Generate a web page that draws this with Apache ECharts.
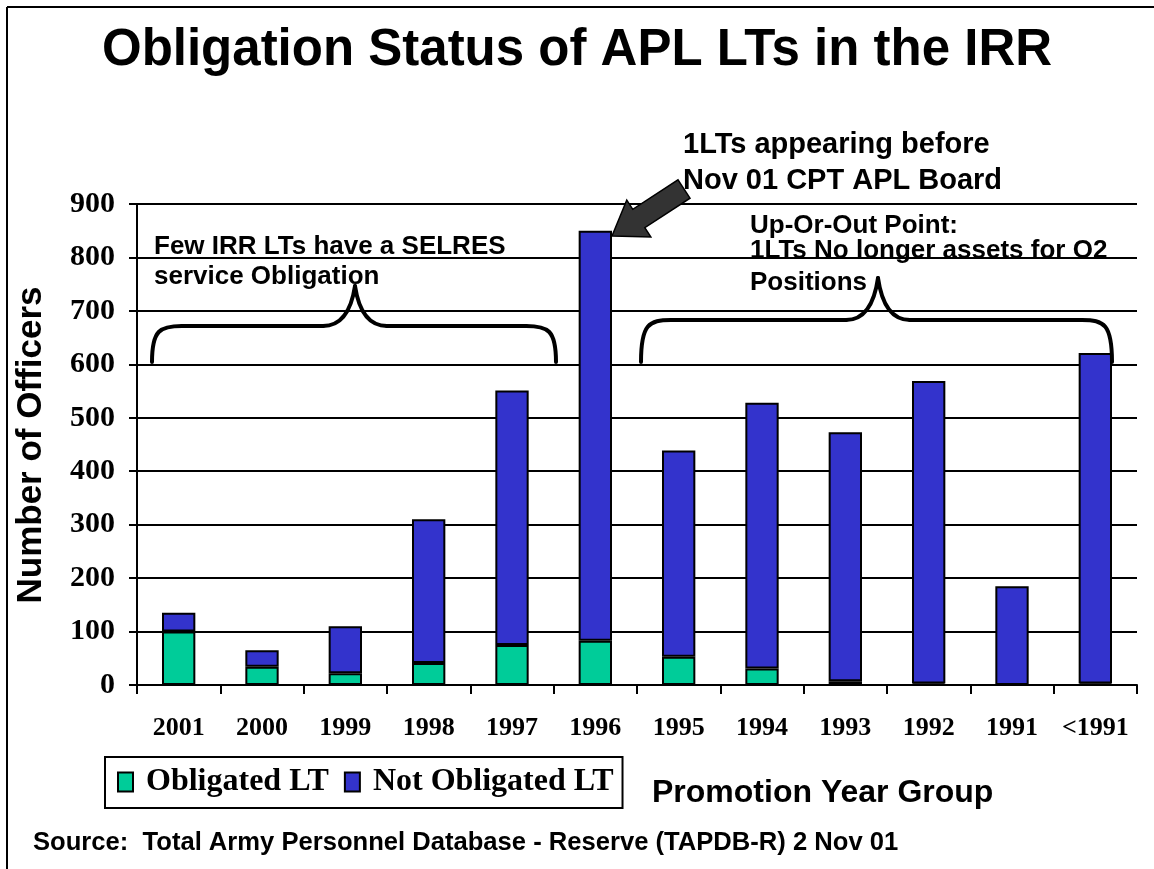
<!DOCTYPE html>
<html>
<head>
<meta charset="utf-8">
<script src="https://cdn.jsdelivr.net/npm/echarts@6/dist/echarts.min.js"></script>
<style>
html,body{margin:0;padding:0;background:#fff;}
#chart{width:1154px;height:869px;}
</style>
</head>
<body>
<div id="chart"></div>
<script>
const categories = ['2001','2000','1999','1998','1997','1996','1995','1994','1993','1992','1991','<1991'];
const obligated    = [100, 34, 22, 41, 75, 83, 53, 31, 7, 3, 0, 3];
const notObligated = [35, 31, 88, 269, 476, 767, 386, 497, 466, 566, 185, 618];
const yTicks = [0,100,200,300,400,500,600,700,800,900];

const SANS = "'Liberation Sans', Arial, sans-serif";
const SERIF = "'Liberation Serif', 'Times New Roman', serif";

// arrow geometry (annotation)
function arrowPoints(tip, tail, headLen, headHalf, shaftHalf){
  const dx = tail[0]-tip[0], dy = tail[1]-tip[1];
  const L = Math.hypot(dx,dy); const ux = dx/L, uy = dy/L; const nx = -uy, ny = ux;
  const b = [tip[0]+ux*headLen, tip[1]+uy*headLen];
  return [tip,
    [b[0]+nx*headHalf, b[1]+ny*headHalf],
    [b[0]+nx*shaftHalf, b[1]+ny*shaftHalf],
    [tail[0]+nx*shaftHalf, tail[1]+ny*shaftHalf],
    [tail[0]-nx*shaftHalf, tail[1]-ny*shaftHalf],
    [b[0]-nx*shaftHalf, b[1]-ny*shaftHalf],
    [b[0]-nx*headHalf, b[1]-ny*headHalf]];
}

// curly brace (annotation) built from lines and bezier curves
function brace(xl, xr, xm, yEnd, yBar, yTip){
  const st = {stroke: '#000', lineWidth: 4, fill: null, lineCap: 'round'};
  const r = 30;
  return [
    {type: 'bezierCurve', z: 60, style: st,
     shape: {x1: xl, y1: yEnd, cpx1: xl, cpy1: yBar + 4, cpx2: xl + 8, cpy2: yBar, x2: xl + r, y2: yBar}},
    {type: 'line', z: 60, style: st, shape: {x1: xl + r, y1: yBar, x2: xm - 32, y2: yBar}},
    {type: 'bezierCurve', z: 60, style: st,
     shape: {x1: xm - 32, y1: yBar, cpx1: xm - 14, cpy1: yBar, cpx2: xm - 4, cpy2: yBar - 14, x2: xm, y2: yTip}},
    {type: 'bezierCurve', z: 60, style: st,
     shape: {x1: xm, y1: yTip, cpx1: xm + 4, cpy1: yBar - 14, cpx2: xm + 14, cpy2: yBar, x2: xm + 32, y2: yBar}},
    {type: 'line', z: 60, style: st, shape: {x1: xm + 32, y1: yBar, x2: xr - r, y2: yBar}},
    {type: 'bezierCurve', z: 60, style: st,
     shape: {x1: xr - r, y1: yBar, cpx1: xr - 8, cpy1: yBar, cpx2: xr, cpy2: yBar + 4, x2: xr, y2: yEnd}}
  ];
}

function txt(x, y, s, size, extra){
  return Object.assign({type: 'text', x: x, y: y, z: 50,
    style: {text: s, font: 'bold ' + size + 'px ' + SANS, fill: '#000', textAlign: 'left', textVerticalAlign: 'middle'}}, extra || {});
}

const chart = echarts.init(document.getElementById('chart'));
chart.setOption({
  animation: false,
  backgroundColor: '#fff',
  title: {
    text: 'Obligation Status of APL LTs in the IRR',
    left: 'center', top: 20,
    textStyle: {fontFamily: SANS, fontWeight: 'bold', fontSize: 51, color: '#000'}
  },
  grid: {left: 137, right: 17, top: 204, bottom: 184},
  legend: {
    left: 105, top: 757,
    padding: [9, 9, 10, 12],
    itemGap: 15, itemWidth: 15, itemHeight: 19,
    borderColor: '#000', borderWidth: 2,
    icon: 'rect',
    textStyle: {fontFamily: SERIF, fontWeight: 'bold', fontSize: 32, color: '#000', padding: [0,0,0,8]},
    data: ['Obligated LT', 'Not Obligated LT']
  },
  xAxis: {
    type: 'category', data: categories,
    axisLine: {lineStyle: {color: '#000', width: 2}},
    axisTick: {show: true, length: 9, lineStyle: {color: '#000', width: 2}},
    axisLabel: {color: '#000', fontFamily: SERIF, fontWeight: 'bold', fontSize: 26, margin: 30, interval: 0}
  },
  yAxis: {
    type: 'value', min: 0, max: 900, interval: 100,
    axisLine: {show: true, lineStyle: {color: '#000', width: 2}},
    axisTick: {show: true, length: 8, lineStyle: {color: '#000', width: 2}},
    splitLine: {show: true, lineStyle: {color: '#000', width: 2}},
    axisLabel: {color: '#000', fontFamily: SERIF, fontWeight: 'bold', fontSize: 30, margin: 22,
      formatter: v => yTicks.includes(v) ? String(v) : ''}
  },
  series: [
    {name: 'Obligated LT', type: 'bar', stack: 'a', data: obligated, barWidth: '40%',
     itemStyle: {color: '#00CC99', borderColor: '#000', borderWidth: 2}},
    {name: 'Not Obligated LT', type: 'bar', stack: 'a', data: notObligated, barWidth: '40%',
     itemStyle: {color: '#3333CC', borderColor: '#000', borderWidth: 2}}
  ],
  graphic: [
    {type: 'line', shape: {x1: 7, y1: 7, x2: 1154, y2: 7}, style: {stroke: '#000', lineWidth: 2}, z: 100},
    {type: 'line', shape: {x1: 7, y1: 7, x2: 7, y2: 869}, style: {stroke: '#000', lineWidth: 2}, z: 100},
    {type: 'text', x: 31, y: 445, rotation: Math.PI/2, z: 50,
     style: {text: 'Number of Officers', font: 'bold 35px ' + SANS, fill: '#000', textAlign: 'center', textVerticalAlign: 'middle'}},
    txt(652, 793, 'Promotion Year Group', 32),
    txt(33, 843, 'Source:  Total Army Personnel Database - Reserve (TAPDB-R) 2 Nov 01', 25.6),
    txt(154, 247, 'Few IRR LTs have a SELRES', 26),
    txt(154, 277, 'service Obligation', 26),
    txt(683, 145, '1LTs appearing before', 29),
    txt(683, 181, 'Nov 01 CPT APL Board', 29),
    txt(750, 226, 'Up-Or-Out Point:', 26),
    txt(750, 251, '1LTs No longer assets for O2', 26),
    txt(750, 283, 'Positions', 26)
  ].concat(
    brace(152, 556, 355, 362, 326, 286),
    brace(641, 1112, 878, 362, 320, 278),
    [{type: 'polygon', z: 70,
      shape: {points: arrowPoints([612,236], [684,189], 32, 22, 11)},
      style: {fill: '#333333', stroke: '#000', lineWidth: 1.5}}]
  )
});
</script>
</body>
</html>
